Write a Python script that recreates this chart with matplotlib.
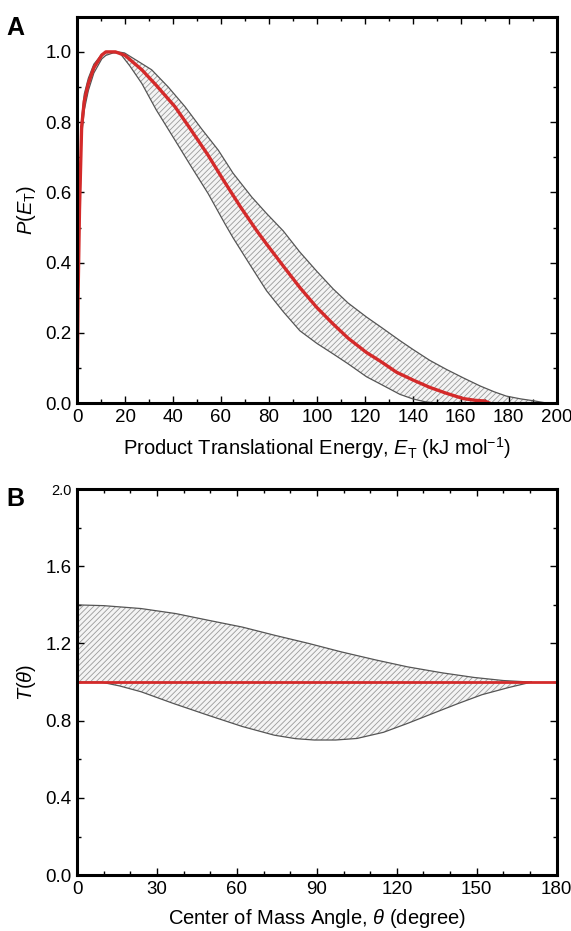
import numpy as np
import matplotlib
matplotlib.use('Agg')
import matplotlib.pyplot as plt

plt.rcParams['font.family'] = ['Liberation Sans', 'DejaVu Sans']
plt.rcParams['mathtext.fontset'] = 'custom'
plt.rcParams['mathtext.rm'] = 'Liberation Sans'
plt.rcParams['mathtext.it'] = 'Liberation Sans:italic'
plt.rcParams['hatch.color'] = '#9a9a9a'
plt.rcParams['hatch.linewidth'] = 0.6

# panel A: best fit P(E_T) and upper / lower limits
e_best = [0, 0.4, 1.0, 1.9, 3, 4.7, 7, 10.3, 12, 16, 20, 27, 33, 40.8, 47,
          54.7, 61, 68, 75, 79, 86, 92.9, 100, 106.8, 113, 120.7, 126.3,
          133.2, 140, 147, 154, 161, 166, 170, 172]
p_best = [0, 0.3, 0.55, 0.787, 0.86, 0.91, 0.955, 0.991, 1.0, 1.0, 0.99,
          0.949, 0.905, 0.844, 0.783, 0.705, 0.635, 0.56, 0.49, 0.453, 0.39,
          0.329, 0.272, 0.225, 0.185, 0.144, 0.12, 0.088, 0.066, 0.045,
          0.028, 0.013, 0.008, 0.006, 0.0]

e_up = [0, 0.4, 1.0, 1.9, 3, 4.7, 7, 10.3, 13, 17, 19.8, 25, 31.1, 38, 45,
        52, 58.9, 65, 72.8, 79, 86, 92.9, 100, 106.8, 113, 120.7, 127, 134.6,
        140, 147, 154, 161, 168, 174, 179, 185, 190, 196]
p_up = [0, 0.33, 0.58, 0.81, 0.88, 0.925, 0.965, 0.993, 1.0, 1.0, 0.997,
        0.975, 0.949, 0.9, 0.844, 0.78, 0.72, 0.655, 0.587, 0.54, 0.49, 0.43,
        0.375, 0.325, 0.285, 0.245, 0.215, 0.178, 0.153, 0.122, 0.096, 0.072,
        0.049, 0.032, 0.02, 0.012, 0.007, 0.0]

e_low = [0, 0.4, 1.0, 1.9, 3, 4.7, 7, 10.3, 12, 15, 17.8, 22, 27, 33, 40.8,
         47, 54.7, 61.7, 65.1, 72, 79, 86, 92.9, 100, 106.8, 113, 120.7,
         126.3, 134.6, 140, 145, 150]
p_low = [0, 0.27, 0.5, 0.76, 0.835, 0.89, 0.94, 0.98, 0.99, 0.997, 0.997,
         0.96, 0.91, 0.835, 0.749, 0.68, 0.596, 0.51, 0.47, 0.395, 0.32, 0.26,
         0.206, 0.17, 0.14, 0.112, 0.075, 0.055, 0.025, 0.012, 0.004, 0.0]

# panel B: T(theta) limits and best fit
th_up = [0, 10, 24, 37, 49, 62, 74, 87, 99, 112, 124, 137, 149, 160, 170.5]
t_up = [1.40, 1.396, 1.381, 1.355, 1.321, 1.285, 1.243, 1.2, 1.157, 1.115,
        1.079, 1.048, 1.024, 1.008, 1.0]
th_low = [0, 9, 16, 24, 36, 49, 62, 74, 82, 89, 97, 105, 115, 124, 133, 143,
          152, 162, 170.5]
t_low = [1.0, 1.0, 0.98, 0.95, 0.89, 0.829, 0.77, 0.725, 0.707, 0.70, 0.70,
         0.708, 0.74, 0.786, 0.835, 0.889, 0.935, 0.972, 1.0]
th_best = [0, 180]
t_best = [1.0, 1.0]


def band(ax, x_up, y_up, x_low, y_low):
    xs = list(x_up) + list(x_low)[::-1]
    ys = list(y_up) + list(y_low)[::-1]
    ax.fill(xs, ys, facecolor='#f4f4f4', hatch='//////', edgecolor='#9a9a9a',
            linewidth=0)
    ax.plot(x_up, y_up, color='#555555', lw=0.9)
    ax.plot(x_low, y_low, color='#555555', lw=0.9)


def style(ax):
    for s in ax.spines.values():
        s.set_linewidth(2.2)
    ax.tick_params(which='both', direction='in', top=True, right=True,
                   labelsize=13.5, width=1.0, pad=4)
    ax.tick_params(which='major', length=5)
    ax.tick_params(which='minor', length=3)


fig = plt.figure(figsize=(5.71, 9.31), dpi=100)

ax1 = fig.add_axes([0.135, 0.567, 0.84, 0.415])
band(ax1, e_up, p_up, e_low, p_low)
ax1.plot(e_best, p_best, color='#d42a2a', lw=2.4)
ax1.set_xlim(0, 200)
ax1.set_ylim(0, 1.1)
ax1.set_xticks(np.arange(0, 201, 20))
ax1.set_xticks(np.arange(0, 201, 10), minor=True)
ax1.set_yticks(np.arange(0, 1.01, 0.2))
ax1.set_yticks(np.arange(0, 1.11, 0.1), minor=True)
ax1.set_yticklabels(['0.0', '0.2', '0.4', '0.6', '0.8', '1.0'])
style(ax1)
ax1.set_xlabel(r'Product Translational Energy, $E_\mathrm{T}$ (kJ mol$^{-1}$)',
               fontsize=14.5, labelpad=7)
ax1.set_ylabel(r'$P(E_\mathrm{T})$', fontsize=14.5, labelpad=5)

ax2 = fig.add_axes([0.135, 0.060, 0.84, 0.4147])
band(ax2, th_up, t_up, th_low, t_low)
ax2.plot(th_best, t_best, color='#d42a2a', lw=2.0)
ax2.set_xlim(0, 180)
ax2.set_ylim(0, 2.0)
ax2.set_xticks(np.arange(0, 181, 30))
ax2.set_xticks(np.arange(0, 181, 10), minor=True)
ax2.set_yticks(np.arange(0, 2.01, 0.4))
ax2.set_yticks(np.arange(0, 2.01, 0.2), minor=True)
ax2.set_yticklabels(['0.0', '0.4', '0.8', '1.2', '1.6', '2.0'])
style(ax2)
ax2.get_yticklabels()[-1].set_fontsize(10.5)
ax2.set_xlabel(r'Center of Mass Angle, $\theta$ (degree)', fontsize=14.5,
               labelpad=7)
ax2.set_ylabel(r'$T(\theta)$', fontsize=14.5, labelpad=5)

fig.text(0.012, 0.962, 'A', fontsize=18, fontweight='bold')
fig.text(0.012, 0.457, 'B', fontsize=18, fontweight='bold')

fig.savefig('out.png', dpi=100)
